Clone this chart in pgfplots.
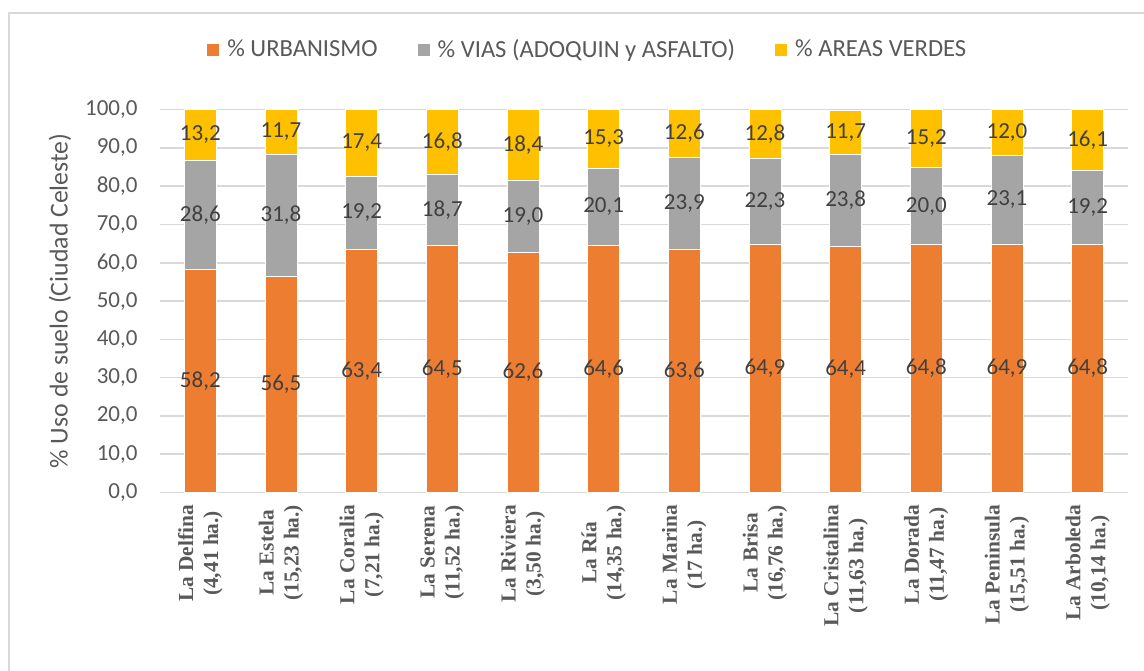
\documentclass[border=0pt]{standalone}
\usepackage{pgfplots}
\pgfplotsset{compat=1.18}
\usepackage{fontspec}
\setmainfont{Carlito}
\newfontfamily\tnr{Liberation Serif}
\definecolor{orng}{HTML}{ED7D31}
\definecolor{gry}{HTML}{A5A5A5}
\definecolor{ylw}{HTML}{FFC000}
\definecolor{txt}{HTML}{595959}
\definecolor{dlab}{HTML}{404040}
\definecolor{gridc}{HTML}{D9D9D9}
\begin{document}
\begin{tikzpicture}
\useasboundingbox (-80pt,-88.75pt) rectangle (492pt,246.25pt);
\draw[gridc, line width=0.8pt] (-75.5pt,-90pt) -- (-75.5pt,239.75pt) -- (493pt,239.75pt);
\begin{axis}[
  at={(0,0)}, anchor=south west,
  scale only axis, width=484pt, height=191.69pt,
  ybar stacked, bar width=16pt,
  xmin=-0.5, xmax=11.5, ymin=0, ymax=100.1,
  xtick={0,...,11},
  xticklabels={{La Delfina\\(4,41 ha.)},{La Estela\\(15,23 ha.)},{La Coralia\\(7,21 ha.)},{La Serena\\(11,52 ha.)},{La Riviera\\(3,50 ha.)},{La Ría\\(14,35 ha.)},{La Marina\\(17 ha.)},{La Brisa\\(16,76 ha.)},{La Cristalina\\(11,63 ha.)},{La Dorada\\(11,47 ha.)},{La Peninsula\\(15,51 ha.)},{La Arboleda\\(10,14 ha.)}},
  xticklabel style={font=\tnr\bfseries\fontsize{10.7}{12.5}\selectfont, text=txt, align=center, rotate=90, anchor=east, inner sep=0pt, xshift=-6pt},
  ytick={0,10,...,100},
  yticklabel style={font=\fontsize{11.5}{13}\selectfont, text=txt, xshift=-7.7pt},
  /pgf/number format/.cd, fixed, fixed zerofill, precision=1, use comma, assume math mode=true,
  /pgfplots/.cd,
  major tick length=0pt,
  axis line style={draw=none},
  ymajorgrids, grid style={gridc, line width=0.8pt},
  ylabel={\% Uso de suelo (Ciudad Celeste)},
  ylabel style={at={(axis description cs:-0.1033,0.5)}, anchor=center, font=\fontsize{12.9}{14}\selectfont, text=txt},
  visualization depends on=rawy \as \rawy,
  nodes near coords={\pgfmathprintnumber[fixed,fixed zerofill,precision=1,use comma]{\rawy}},
  every node near coord/.append style={font=\fontsize{11.5}{13}\selectfont, text=dlab, anchor=center},
  legend columns=3,
  legend style={draw=none, fill=none, at={(axis description cs:0.443,1)}, anchor=center, yshift=29.75pt, font=\fontsize{12.3}{14}\selectfont, text=txt, /tikz/every even column/.append style={column sep=18pt}, /tikz/every odd column/.append style={column sep=2pt}},
  legend image code/.code={\fill[#1,draw=none] (0pt,-3pt) rectangle (6pt,3pt);},
]
\addplot[fill=orng, draw=white, line width=0.3pt] coordinates {(0,58.2) (1,56.5) (2,63.4) (3,64.5) (4,62.6) (5,64.6) (6,63.6) (7,64.9) (8,64.4) (9,64.8) (10,64.9) (11,64.8)};
\addplot[fill=gry, draw=white, line width=0.3pt] coordinates {(0,28.6) (1,31.8) (2,19.2) (3,18.7) (4,19.0) (5,20.1) (6,23.9) (7,22.3) (8,23.8) (9,20.0) (10,23.1) (11,19.2)};
\addplot[fill=ylw, draw=white, line width=0.3pt] coordinates {(0,13.2) (1,11.7) (2,17.4) (3,16.8) (4,18.4) (5,15.3) (6,12.6) (7,12.8) (8,11.7) (9,15.2) (10,12.0) (11,16.1)};
\legend{\% URBANISMO, \% VIAS (ADOQUIN y ASFALTO), \% AREAS VERDES}
\end{axis}
\end{tikzpicture}
\end{document}
